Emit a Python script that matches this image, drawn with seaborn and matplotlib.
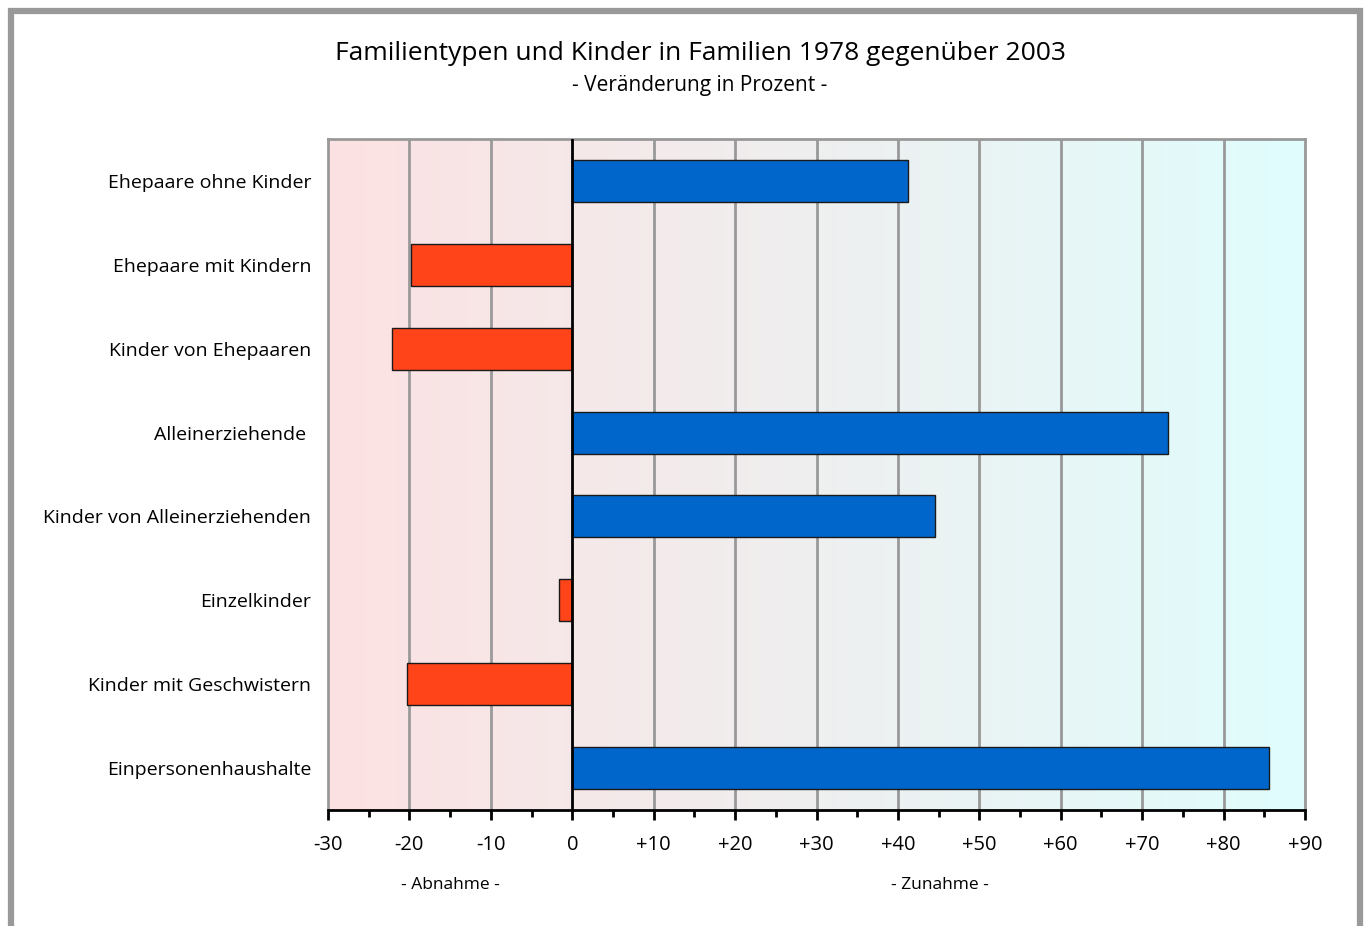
import numpy as np
import pandas as pd
import matplotlib
matplotlib.use('Agg')
import matplotlib.pyplot as plt
from matplotlib.patches import Rectangle
from matplotlib.colors import LinearSegmentedColormap
import seaborn as sns

# data
categories = ['Ehepaare ohne Kinder', 'Ehepaare mit Kindern', 'Kinder von Ehepaaren',
              'Alleinerziehende ', 'Kinder von Alleinerziehenden', 'Einzelkinder',
              'Kinder mit Geschwistern', 'Einpersonenhaushalte']
changes = [41.2, -19.8, -22.2, 73.2, 44.6, -1.6, -20.3, 85.6]
tick_values = [-30, -20, -10, 0, 10, 20, 30, 40, 50, 60, 70, 80, 90]
tick_labels = ['-30', '-20', '-10', '0', '+10', '+20', '+30', '+40', '+50',
               '+60', '+70', '+80', '+90']

title = 'Familientypen und Kinder in Familien 1978 gegenüber 2003'
subtitle = '- Veränderung in Prozent -'

sns.set_theme(style='white')
plt.rcParams['font.family'] = ['Open Sans', 'DejaVu Sans']
plt.rcParams['text.color'] = 'black'
plt.rcParams['xtick.color'] = 'black'
plt.rcParams['ytick.color'] = 'black'

df = pd.DataFrame({'Kategorie': categories, 'Veraenderung': changes})
colors = {c: ('#0066CC' if v > 0 else '#FF4419') for c, v in zip(categories, changes)}

fig = plt.figure(figsize=(13.67, 9.26), dpi=100)
ax = fig.add_axes([328 / 1367, 1 - 810 / 926, (1305 - 328) / 1367, (810 - 139) / 926])

# gradient background: pink on the left to light cyan on the right
grad = LinearSegmentedColormap.from_list('bg', ['#FDE1E2', '#E0FDFD'])
ax.imshow(np.linspace(0, 1, 256).reshape(1, -1), cmap=grad, aspect='auto',
          extent=[-30, 90, 7.5, -0.5], zorder=0)

for v in tick_values:
    if v not in (-30, 0, 90):
        ax.axvline(v, color='#999999', lw=2, zorder=1)

sns.barplot(data=df, x='Veraenderung', y='Kategorie', hue='Kategorie', palette=colors,
            legend=False, orient='h', width=0.5, edgecolor='#1a1a1a', linewidth=1,
            saturation=1, ax=ax, zorder=2)

ax.axvline(0, color='black', lw=2, zorder=3)

ax.set_xlim(-30, 90)
ax.set_ylim(7.5, -0.5)
ax.set_xticks(tick_values)
ax.set_xticklabels(tick_labels, fontsize=14.5)
ax.set_xticks(np.arange(-25, 90, 10), minor=True)
ax.tick_params(axis='x', which='major', direction='out', length=7, width=2,
               color='black', bottom=True, pad=11, labelcolor='black')
ax.tick_params(axis='x', which='minor', direction='out', length=5, width=2,
               color='black', bottom=True)
ax.tick_params(axis='y', length=0, labelsize=14, pad=12, labelcolor='black')
ax.set_xlabel('')
ax.set_ylabel('')
ax.grid(False)

for s in ['top', 'left', 'right']:
    ax.spines[s].set_color('#999999')
    ax.spines[s].set_linewidth(2)
ax.spines['bottom'].set_color('black')
ax.spines['bottom'].set_linewidth(2)

fig.text(700 / 1367, 1 - 53 / 926, title, ha='center', va='center', fontsize=19)
fig.text(700 / 1367, 1 - 86 / 926, subtitle, ha='center', va='center', fontsize=15)
fig.text(450 / 1367, 1 - 885 / 926, '- Abnahme -', ha='center', va='center', fontsize=12.5)
fig.text(940 / 1367, 1 - 885 / 926, '- Zunahme -', ha='center', va='center', fontsize=12.5)

# grey outer frame
fig.patches.append(Rectangle((11 / 1367, -0.05), (1360 - 11) / 1367, 1.05 - 11 / 926,
                             transform=fig.transFigure, fill=False,
                             edgecolor='#999999', lw=4.5))

fig.savefig('out.png', dpi=100)
